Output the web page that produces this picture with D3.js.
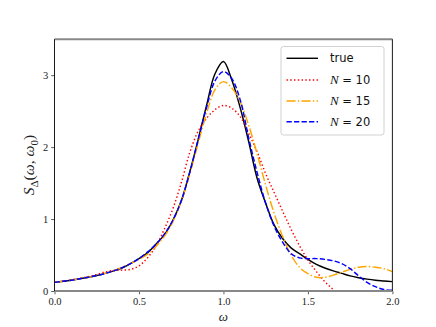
<!DOCTYPE html>
<html><head><meta charset="utf-8">
<script src="https://cdn.jsdelivr.net/npm/d3@7"></script>
<style>body{margin:0;background:#fff} svg{display:block}</style>
</head><body><svg id="c" width="436" height="327"></svg>
<script>
const omega = [0.00,0.05,0.10,0.15,0.20,0.25,0.30,0.35,0.40,0.45,0.50,0.55,0.60,0.65,0.70,0.75,0.80,0.85,0.90,0.95,1.00,
               1.05,1.10,1.15,1.20,1.25,1.30,1.35,1.40,1.45,1.50,1.55,1.60,1.65,1.70,1.75,1.80,1.85,1.90,1.95,2.00];
const sTrue = [0.12,0.135,0.15,0.17,0.19,0.215,0.245,0.28,0.32,0.38,0.45,0.53,0.65,0.78,0.98,1.25,1.65,2.10,2.58,3.02,3.19,
               2.93,2.54,2.07,1.56,1.22,0.92,0.73,0.60,0.52,0.44,0.37,0.32,0.28,0.245,0.21,0.185,0.165,0.15,0.14,0.13];
const sN10 = [0.12,0.135,0.155,0.175,0.20,0.23,0.265,0.285,0.29,0.30,0.35,0.46,0.62,0.86,1.14,1.50,1.92,2.22,2.40,2.52,2.58,
               2.54,2.42,2.19,1.93,1.63,1.37,1.11,0.86,0.63,0.43,0.27,0.13,0.02,-0.08,-0.15,-0.20,-0.24,-0.26,-0.27,-0.26];
const sN15 = [0.12,0.135,0.15,0.17,0.19,0.215,0.245,0.28,0.33,0.38,0.44,0.51,0.62,0.76,0.96,1.24,1.62,2.05,2.47,2.80,2.91,
               2.82,2.62,2.30,1.90,1.47,1.08,0.76,0.50,0.33,0.24,0.19,0.19,0.22,0.26,0.30,0.33,0.34,0.33,0.31,0.27];
const sN20 = [0.12,0.135,0.15,0.17,0.19,0.215,0.245,0.28,0.325,0.38,0.45,0.54,0.65,0.79,0.98,1.25,1.64,2.10,2.55,2.92,3.05,
               2.95,2.65,2.12,1.64,1.22,0.90,0.68,0.52,0.46,0.45,0.45,0.44,0.42,0.38,0.31,0.21,0.12,0.06,0.02,0.01];
const seriesNames = ["true","N=10","N=15","N=20"];
const xTicks = [0.0,0.5,1.0,1.5,2.0];
const yTicks = [0,1,2,3];

const svg = d3.select("#c");
const L = 54.5, R = 392.4, T = 39.2, B = 291;
const x = d3.scaleLinear().domain([0,2]).range([L,R]);
const y = d3.scaleLinear().domain([0,3.5]).range([B,T]);

svg.append("defs").append("clipPath").attr("id","clip")
  .append("rect").attr("x",L).attr("y",T).attr("width",R-L).attr("height",B-T);

const styles = [
  {color:"#000000", dash:null},
  {color:"#ff0000", dash:"1.42,2.34"},
  {color:"#ffa500", dash:"9.08,2.27,1.42,2.27"},
  {color:"#0000ff", dash:"5.25,2.27"}
];
const data = [sTrue, sN10, sN15, sN20];

const line = d3.line().x((d,i)=>x(omega[i])).y(d=>y(d)).curve(d3.curveCatmullRom.alpha(0.5));
const g = svg.append("g").attr("clip-path","url(#clip)");
data.forEach((s,k)=>{
  g.append("path").attr("d", line(s)).attr("fill","none")
   .attr("stroke", styles[k].color).attr("stroke-width",1.45)
   .attr("stroke-dasharray", styles[k].dash);
});

// axes
const serif = "'Liberation Serif','DejaVu Serif',serif";
const xAxis = d3.axisBottom(x).tickValues(xTicks).tickFormat(d3.format(".1f")).tickSize(3.3).tickPadding(3);
const yAxis = d3.axisLeft(y).tickValues(yTicks).tickFormat(d3.format("d")).tickSize(3.3).tickPadding(3);
const gx = svg.append("g").attr("transform",`translate(0,${B})`).call(xAxis);
const gy = svg.append("g").attr("transform",`translate(${L},0)`).call(yAxis);
[gx,gy].forEach(a=>{
  a.select(".domain").remove();
  a.selectAll(".tick line").attr("stroke","#333").attr("stroke-width",0.8);
  a.selectAll(".tick text").attr("font-family",serif).attr("font-size",10.5).attr("fill","#222");
});
// spines
svg.append("line").attr("x1",L).attr("x2",R).attr("y1",T).attr("y2",T).attr("stroke","#888").attr("stroke-width",2);
svg.append("line").attr("x1",L).attr("x2",R).attr("y1",B).attr("y2",B).attr("stroke","#888").attr("stroke-width",2);
svg.append("line").attr("x1",L).attr("x2",L).attr("y1",T).attr("y2",B).attr("stroke","#000").attr("stroke-width",0.9);
svg.append("line").attr("x1",R).attr("x2",R).attr("y1",T).attr("y2",B).attr("stroke","#000").attr("stroke-width",0.9);

// axis labels
svg.append("text").attr("x",(L+R)/2).attr("y",321).attr("text-anchor","middle")
  .attr("font-family",serif).attr("font-style","italic").attr("font-size",13).attr("fill","#222").text("ω");
const yl = svg.append("text").attr("transform",`translate(34,${(T+B)/2}) rotate(-90)`).attr("text-anchor","middle")
  .attr("font-family",serif).attr("font-size",15.5).attr("fill","#222");
yl.append("tspan").attr("font-style","italic").text("S");
yl.append("tspan").attr("font-size",11).attr("dy",3.5).text("Δ");
yl.append("tspan").attr("dy",-3.5).text("(");
yl.append("tspan").attr("font-style","italic").text("ω");
yl.append("tspan").text(", ");
yl.append("tspan").attr("font-style","italic").text("ω");
yl.append("tspan").attr("font-size",11).attr("dy",3.5).text("0");
yl.append("tspan").attr("dy",-3.5).text(")");

// legend
const lg = svg.append("g");
lg.append("rect").attr("x",281).attr("y",46.5).attr("width",103).attr("height",88.5).attr("rx",2.5)
  .attr("fill","#fff").attr("fill-opacity",0.8).attr("stroke","#ccc").attr("stroke-width",0.9);
const rowY = [58.3, 80, 101, 121.7];
seriesNames.forEach((name,k)=>{
  lg.append("line").attr("x1",286.5).attr("x2",318).attr("y1",rowY[k]).attr("y2",rowY[k])
    .attr("stroke",styles[k].color).attr("stroke-width",1.45).attr("stroke-dasharray",styles[k].dash);
  const t = lg.append("text").attr("x",330).attr("y",rowY[k]+4).attr("font-size",11.5)
    .attr("font-family","'DejaVu Sans',sans-serif").attr("fill","#111");
  if (name.startsWith("N")) {
    const [a,b] = name.split("=");
    t.append("tspan").attr("font-family",serif).attr("font-style","italic").attr("font-size",13).text(a);
    t.append("tspan").text(" = " + b);
  } else {
    t.text(name);
  }
});
</script></body></html>
